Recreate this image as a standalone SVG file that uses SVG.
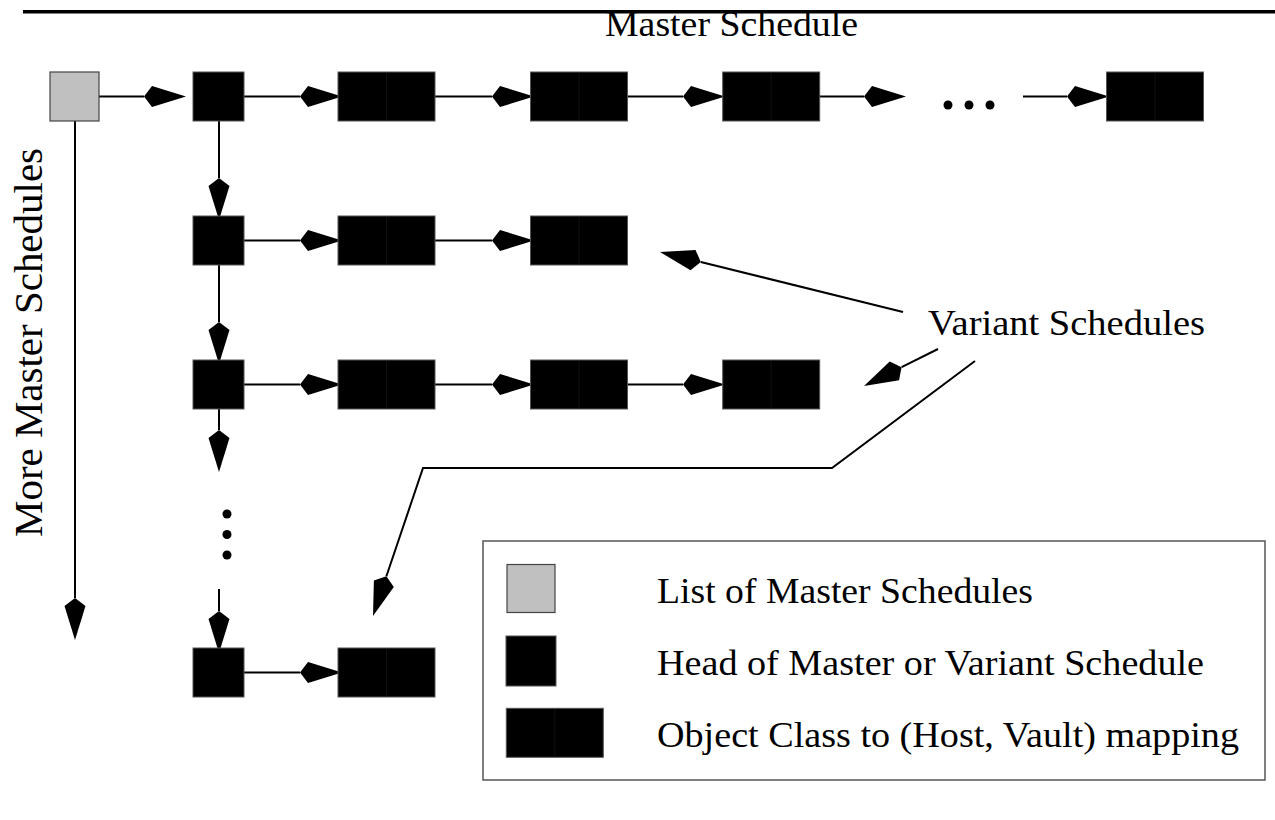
<svg xmlns="http://www.w3.org/2000/svg" xmlns:xlink="http://www.w3.org/1999/xlink" width="1275" height="820" viewBox="0 0 1275 820">
<style>
.t{font-family:"Liberation Serif","Times New Roman",serif;font-size:35px;fill:#000}
.c{fill:none;stroke:#000;stroke-width:2}
.hd{fill:#000;stroke:#555;stroke-width:1}
.ob{fill:#000;stroke:#555;stroke-width:1}
.seam{stroke:#1c1c1c;stroke-width:0.6}
.gr{fill:#c0c0c0;stroke:#444;stroke-width:1.2}
.dot{fill:#000}
</style>
<defs>
<path id="ah" d="M0,0 L-34,-10.5 L-42,0 L-34,10.5 Z" fill="#000"/>
<g id="obj"><rect class="ob" x="0" y="0" width="97" height="49"/><line class="seam" x1="48.5" y1="0.5" x2="48.5" y2="48.5"/></g>
</defs>
<rect x="23" y="10" width="1252" height="3.5" fill="#000"/>
<text class="t" x="605" y="36" textLength="253" lengthAdjust="spacingAndGlyphs">Master Schedule</text>
<text class="t" x="928" y="335" textLength="277" lengthAdjust="spacingAndGlyphs">Variant Schedules</text>
<text class="t" transform="translate(41.7,537) rotate(-90)" style="font-size:41px" textLength="389" lengthAdjust="spacingAndGlyphs">More Master Schedules</text>
<g id="connectors">
<path class="c" d="M99,96.5 H144 M244,96.5 H300 M435,96.5 H492 M627,96.5 H683 M819,96.5 H864 M1023,96.5 H1067"/>
<use xlink:href="#ah" transform="translate(186,96.5)"/>
<use xlink:href="#ah" transform="translate(342,96.5)"/>
<use xlink:href="#ah" transform="translate(534,96.5)"/>
<use xlink:href="#ah" transform="translate(725,96.5)"/>
<use xlink:href="#ah" transform="translate(906,96.5)"/>
<use xlink:href="#ah" transform="translate(1109,96.5)"/>
<path class="c" d="M244,240.5 H300 M435,240.5 H492"/>
<use xlink:href="#ah" transform="translate(342,240.5)"/>
<use xlink:href="#ah" transform="translate(534,240.5)"/>
<path class="c" d="M244,384.5 H300 M435,384.5 H492 M627,384.5 H683"/>
<use xlink:href="#ah" transform="translate(342,384.5)"/>
<use xlink:href="#ah" transform="translate(534,384.5)"/>
<use xlink:href="#ah" transform="translate(725,384.5)"/>
<path class="c" d="M244,672.5 H300"/>
<use xlink:href="#ah" transform="translate(342,672.5)"/>
<path class="c" d="M219,121 V178 M219,265 V322 M219,409 V430 M219,589 V611"/>
<use xlink:href="#ah" transform="translate(219,220) rotate(90)"/>
<use xlink:href="#ah" transform="translate(219,364) rotate(90)"/>
<use xlink:href="#ah" transform="translate(219,472) rotate(90)"/>
<use xlink:href="#ah" transform="translate(219,653) rotate(90)"/>
<path class="c" d="M75,121 V598"/>
<use xlink:href="#ah" transform="translate(75,640) rotate(90)"/>
<path class="c" d="M903,312 L700.8,262"/>
<use xlink:href="#ah" transform="translate(660,252) rotate(-166.2)"/>
<path class="c" d="M938,349 L901.6,367.2"/>
<use xlink:href="#ah" transform="translate(864,386) rotate(153.4)"/>
<path class="c" d="M975,361 L832,468 L423,468 L386.4,576.2"/>
<use xlink:href="#ah" transform="translate(373,616) rotate(108.6)"/>
<circle class="dot" cx="948" cy="105" r="4.5"/>
<circle class="dot" cx="969" cy="105" r="4.5"/>
<circle class="dot" cx="990" cy="105" r="4.5"/>
<circle class="dot" cx="227" cy="514" r="4.5"/>
<circle class="dot" cx="227" cy="534.5" r="4.5"/>
<circle class="dot" cx="227" cy="555" r="4.5"/>
</g>
<g id="list"><rect class="gr" x="50" y="72" width="49" height="49"/></g>
<g id="head1"><rect class="hd" x="193" y="72" width="51" height="49"/></g>
<g id="head2"><rect class="hd" x="193" y="216" width="51" height="49"/></g>
<g id="head3"><rect class="hd" x="193" y="360" width="51" height="49"/></g>
<g id="head4"><rect class="hd" x="193" y="648" width="51" height="49"/></g>
<g id="m1"><use xlink:href="#obj" transform="translate(338,72)"/></g>
<g id="m2"><use xlink:href="#obj" transform="translate(530.5,72)"/></g>
<g id="m3"><use xlink:href="#obj" transform="translate(722.7,72)"/></g>
<g id="m4"><use xlink:href="#obj" transform="translate(1106.5,72)"/></g>
<g id="v1a"><use xlink:href="#obj" transform="translate(338,216)"/></g>
<g id="v1b"><use xlink:href="#obj" transform="translate(530.5,216)"/></g>
<g id="v2a"><use xlink:href="#obj" transform="translate(338,360)"/></g>
<g id="v2b"><use xlink:href="#obj" transform="translate(530.5,360)"/></g>
<g id="v2c"><use xlink:href="#obj" transform="translate(722.7,360)"/></g>
<g id="v3a"><use xlink:href="#obj" transform="translate(338,648)"/></g>
<g id="legend">
<rect x="483" y="541" width="782" height="239" fill="none" stroke="#555" stroke-width="1.5"/>
<rect class="gr" x="507" y="564.5" width="48" height="48"/>
<rect class="hd" x="506" y="636" width="50" height="50"/>
<use xlink:href="#obj" transform="translate(506.3,708.3)"/>
<text class="t" x="657" y="603" textLength="376" lengthAdjust="spacingAndGlyphs">List of Master Schedules</text>
<text class="t" x="657" y="675" textLength="547" lengthAdjust="spacingAndGlyphs">Head of Master or Variant Schedule</text>
<text class="t" x="657" y="747" textLength="582" lengthAdjust="spacingAndGlyphs">Object Class to (Host, Vault) mapping</text>
</g>
</svg>
